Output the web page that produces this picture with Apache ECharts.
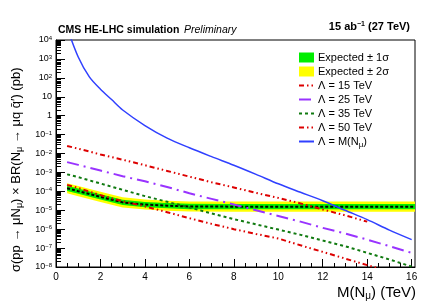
<!DOCTYPE html>
<html>
<head>
<meta charset="utf-8">
<script src="https://cdn.jsdelivr.net/npm/echarts@6/dist/echarts.min.js"></script>
<style>
html,body{margin:0;padding:0;background:#fff;}
#c{width:425px;height:305px;}
</style>
</head>
<body>
<div id="c"></div>
<script>
// ---- data ----
const massLam = [0.5, 1, 2, 3, 4, 5, 6, 7, 8, 9, 10, 11, 12, 13, 14, 15, 16];
const lam15 = [2.5e-2, 1.8e-2, 8.9e-3, 4.7e-3, 2.4e-3, 1.2e-3, 6.0e-4, 3.0e-4, 1.6e-4, 8.3e-5, 4.5e-5, 2.3e-5, 1.1e-5, 5.4e-6, 2.5e-6];
const lam15Mass = [0.5, 1, 2, 3, 4, 5, 6, 7, 8, 9, 10, 11, 12, 13, 14];
const lam25 = [3.5e-3, 2.5e-3, 1.26e-3, 6.3e-4, 3.4e-4, 1.7e-4, 7.9e-5, 4.0e-5, 2.0e-5, 1.0e-5, 5.0e-6, 2.5e-6, 1.17e-6, 5.9e-7, 2.8e-7, 1.26e-7, 5.6e-8];
const lam35 = [7.9e-4, 5.6e-4, 2.6e-4, 1.2e-4, 5.6e-5, 2.8e-5, 1.4e-5, 6.8e-6, 3.4e-6, 1.8e-6, 9.5e-7, 5.0e-7, 2.5e-7, 1.26e-7, 5.6e-8, 2.5e-8, 1.05e-8];
const lam50 = [2.2e-4, 1.5e-4, 6.3e-5, 3.0e-5, 1.6e-5, 7.9e-6, 3.8e-6, 1.9e-6, 1.0e-6, 5.6e-7, 3.2e-7, 1.4e-7, 6.3e-8, 2.8e-8, 1.26e-8, 5.6e-9];
const lam50Mass = [0.5, 1, 2, 3, 4, 5, 6, 7, 8, 9, 10, 11, 12, 13, 14, 15];
const massLamM = [0.5, 1, 1.5, 2, 2.5, 3, 4, 5, 6, 7, 8, 9, 10, 11, 12, 13, 14, 15, 16];
const lamM = [4.4e4, 1.26e3, 112, 25, 7.1, 2.0, 0.3, 6.5e-2, 2.0e-2, 6.8e-3, 2.4e-3, 7.9e-4, 2.5e-4, 8.9e-5, 3.2e-5, 1.0e-5, 3.2e-6, 8.9e-7, 2.8e-7];
const massExp = [0.5, 1, 2, 3, 4, 5, 6, 8, 10, 12, 14, 16, 16.15];
const expected = [1.45e-4, 1.02e-4, 5.1e-5, 2.6e-5, 2.0e-5, 1.74e-5, 1.58e-5, 1.55e-5, 1.55e-5, 1.55e-5, 1.55e-5, 1.55e-5, 1.55e-5];
const exp1Hi = [2.0e-4, 1.41e-4, 7.0e-5, 3.6e-5, 2.76e-5, 2.4e-5, 2.18e-5, 2.14e-5, 2.14e-5, 2.14e-5, 2.14e-5, 2.14e-5, 2.14e-5];
const exp1Lo = [1.05e-4, 7.4e-5, 3.7e-5, 1.88e-5, 1.45e-5, 1.26e-5, 1.14e-5, 1.12e-5, 1.12e-5, 1.12e-5, 1.12e-5, 1.12e-5, 1.12e-5];
const exp2Hi = [2.7e-4, 1.9e-4, 9.5e-5, 4.8e-5, 3.7e-5, 3.2e-5, 2.94e-5, 2.88e-5, 2.88e-5, 2.88e-5, 2.88e-5, 2.88e-5, 2.88e-5];
const exp2Lo = [7.8e-5, 5.5e-5, 2.74e-5, 1.4e-5, 1.08e-5, 9.4e-6, 8.5e-6, 8.3e-6, 8.3e-6, 8.3e-6, 8.3e-6, 8.3e-6, 8.3e-6];
const xTickValues = [0, 2, 4, 6, 8, 10, 12, 14, 16];
const xMinorTicks = [0.5,1,1.5,2.5,3,3.5,4.5,5,5.5,6.5,7,7.5,8.5,9,9.5,10.5,11,11.5,12.5,13,13.5,14.5,15,15.5];
const yTickValues = [1e4, 1e3, 1e2, 1e1, 1, 1e-1, 1e-2, 1e-3, 1e-4, 1e-5, 1e-6, 1e-7, 1e-8];
const yMinorTicks = [];
for (let e = -8; e < 4; e++) for (let k = 2; k <= 9; k++) yMinorTicks.push(k * Math.pow(10, e));

const X_MIN = 0, X_MAX = 16.15, Y_MIN = 1e-8, Y_MAX = 1e4;
const FONT = '"Liberation Sans", Arial, sans-serif';

function zip(xs, ys) { return ys.map((y, i) => [xs[i], y]); }
function band(name, color, hi, lo) {
  return {
    name: name, type: 'custom', clip: true, z: 1,
    itemStyle: { color: color },
    data: [[massExp[0], hi[0]]],
    renderItem: function (params, api) {
      const pts = [];
      for (let i = 0; i < massExp.length; i++) pts.push(api.coord([massExp[i], hi[i]]));
      for (let i = massExp.length - 1; i >= 0; i--) pts.push(api.coord([massExp[i], lo[i]]));
      return { type: 'polygon', shape: { points: pts }, style: { fill: color, stroke: null } };
    }
  };
}
function yFmt(v) {
  const e = Math.round(Math.log10(v));
  if (e === 0) return '1';
  if (e === 1) return '10';
  return '10{sup|' + (e < 0 ? '\u2212' + (-e) : e) + '}';
}
const hideSym = { opacity: 0, color: 'rgba(0,0,0,0)', borderWidth: 0 };

const chart = echarts.init(document.getElementById('c'), null, { renderer: 'canvas' });
chart.setOption({
  animation: false,
  backgroundColor: '#fff',
  textStyle: { fontFamily: FONT },
  grid: { left: 56, right: 10, top: 40, bottom: 38, show: true, borderColor: '#000', borderWidth: 1, backgroundColor: 'transparent' },
  xAxis: [
    { type: 'value', min: X_MIN, max: X_MAX, gridIndex: 0,
      axisLine: { lineStyle: { color: '#000', width: 1 } },
      splitLine: { show: false },
      axisTick: { inside: true, length: 8, lineStyle: { color: '#000' }, customValues: xTickValues },
      axisLabel: { customValues: xTickValues, color: '#000', fontSize: 10, margin: 5, fontFamily: FONT } },
    { type: 'value', min: X_MIN, max: X_MAX, gridIndex: 0, position: 'bottom',
      axisLine: { show: false }, splitLine: { show: false },
      axisTick: { inside: true, length: 4, lineStyle: { color: '#000' }, customValues: xMinorTicks },
      axisLabel: { show: false } }
  ],
  yAxis: [
    { type: 'log', logBase: 10, min: Y_MIN, max: Y_MAX, gridIndex: 0,
      axisLine: { show: true, lineStyle: { color: '#000', width: 1 } },
      splitLine: { show: false },
      axisTick: { inside: true, length: 9, lineStyle: { color: '#000' }, customValues: yTickValues },
      axisLabel: { customValues: yTickValues, color: '#000', fontSize: 9, margin: 4, fontFamily: FONT,
        formatter: yFmt, rich: { sup: { fontSize: 6, verticalAlign: 'top', lineHeight: 8, fontFamily: FONT } } } },
    { type: 'log', logBase: 10, min: Y_MIN, max: Y_MAX, gridIndex: 0, position: 'left',
      axisLine: { show: false }, splitLine: { show: false },
      axisTick: { inside: true, length: 5, lineStyle: { color: '#000' }, customValues: yMinorTicks },
      axisLabel: { show: false } }
  ],
  legend: {
    orient: 'vertical', left: 293, top: 47, itemWidth: 15, itemHeight: 10, itemGap: 3,
    selectedMode: false,
    textStyle: { fontSize: 11, color: '#000', fontFamily: FONT, padding: [0, 0, 0, -1], rich: { sub: { fontSize: 8, verticalAlign: 'bottom', padding: [6, 0, 0, 0], fontFamily: FONT } } },
    formatter: function (n) { return n.replace('N\u03bc', 'N{sub|\u03bc}'); },
    data: [
      { name: 'Expected \u00b1 1\u03c3', icon: 'rect', itemStyle: { color: '#00ee00' } },
      { name: 'Expected \u00b1 2\u03c3', icon: 'rect', itemStyle: { color: '#ffff00' } },
      { name: '\u039b = 15 TeV', itemStyle: hideSym },
      { name: '\u039b = 25 TeV', itemStyle: hideSym },
      { name: '\u039b = 35 TeV', itemStyle: hideSym },
      { name: '\u039b = 50 TeV', itemStyle: hideSym },
      { name: '\u039b = M(N\u03bc)', itemStyle: hideSym }
    ]
  },
  series: [
    band('Expected \u00b1 2\u03c3', '#ffff00', exp2Hi, exp2Lo),
    band('Expected \u00b1 1\u03c3', '#00ee00', exp1Hi, exp1Lo),
    { name: 'Expected', type: 'line', data: zip(massExp, expected), symbol: 'none', z: 3,
      lineStyle: { color: '#000', width: 2, type: [3, 2] } },
    { name: '\u039b = 15 TeV', type: 'line', data: zip(lam15Mass, lam15), symbol: 'none', z: 4,
      itemStyle: { color: '#dd0000' },
      lineStyle: { color: '#dd0000', width: 2, type: [5, 3, 1.5, 3, 1.5, 3] } },
    { name: '\u039b = 25 TeV', type: 'line', data: zip(massLam, lam25), symbol: 'none', z: 4,
      itemStyle: { color: '#9933ff' },
      lineStyle: { color: '#9933ff', width: 2, type: [12, 5, 2, 5] } },
    { name: '\u039b = 35 TeV', type: 'line', data: zip(massLam, lam35), symbol: 'none', z: 4,
      itemStyle: { color: '#107a10' },
      lineStyle: { color: '#107a10', width: 2, type: [3, 3] } },
    { name: '\u039b = 50 TeV', type: 'line', data: zip(lam50Mass, lam50), symbol: 'none', z: 4,
      itemStyle: { color: '#dd0000' },
      lineStyle: { color: '#dd0000', width: 2, type: [5, 3, 1.5, 3, 1.5, 3] } },
    { name: '\u039b = M(N\u03bc)', type: 'line', data: zip(massLamM, lamM), symbol: 'none', z: 4, smooth: 0.3,
      itemStyle: { color: '#3040ff' },
      lineStyle: { color: '#3040ff', width: 1.5 } }
  ],
  graphic: [
    { type: 'text', left: 58, top: 25, style: { text: 'CMS HE-LHC simulation', font: 'bold 10.5px ' + FONT, fill: '#000' } },
    { type: 'text', left: 184, top: 25, style: { text: 'Preliminary', font: 'italic 10.5px ' + FONT, fill: '#000' } },
    { type: 'text', right: 15, top: 21, style: { text: '15 ab{sup|\u22121} (27 TeV)', font: 'bold 11px ' + FONT, fill: '#000',
        rich: { sup: { fontSize: 7, fontWeight: 'bold', verticalAlign: 'top', lineHeight: 10, fontFamily: FONT } } } },
    { type: 'text', right: 9, top: 285, style: { text: 'M(N{sub|\u03bc}) (TeV)', font: '15px ' + FONT, fill: '#000',
        rich: { sub: { fontSize: 10, verticalAlign: 'bottom', padding: [8, 0, 0, 0], fontFamily: FONT } } } },
    { type: 'text', x: 8, y: 272, rotation: Math.PI / 2,
      style: { text: '\u03c3(pp \u2192 \u03bcN{sub|\u03bc}) \u00d7 BR(N{sub|\u03bc} \u2192 \u03bcq q\u0304\u2032) (pb)', font: '13px ' + FONT, fill: '#000',
        textAlign: 'left', textVerticalAlign: 'top',
        rich: { sub: { fontSize: 9, verticalAlign: 'bottom', padding: [7, 0, 0, 0], fontFamily: FONT } } } }
  ]
});
</script>
</body>
</html>
